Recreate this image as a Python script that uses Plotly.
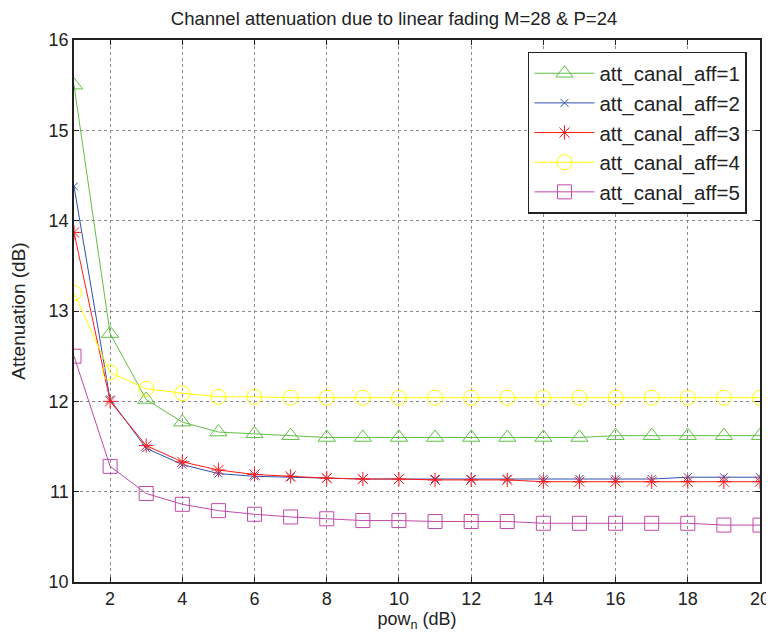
import plotly.graph_objects as go

x = list(range(1, 21))
att1 = [15.5, 12.75, 12.02, 11.77, 11.66, 11.64, 11.62, 11.6, 11.6, 11.6, 11.6, 11.6, 11.6, 11.6, 11.6, 11.62, 11.62, 11.62, 11.62, 11.62]
att2 = [14.38, 12.02, 11.48, 11.3, 11.2, 11.17, 11.16, 11.15, 11.14, 11.14, 11.14, 11.14, 11.14, 11.14, 11.14, 11.14, 11.14, 11.16, 11.16, 11.16]
att3 = [13.87, 12.0, 11.51, 11.33, 11.24, 11.19, 11.17, 11.15, 11.14, 11.14, 11.13, 11.13, 11.13, 11.11, 11.11, 11.11, 11.11, 11.11, 11.11, 11.11]
att4 = [13.2, 12.32, 12.14, 12.09, 12.05, 12.05, 12.04, 12.04, 12.04, 12.04, 12.04, 12.04, 12.04, 12.04, 12.04, 12.04, 12.04, 12.04, 12.04, 12.04]
att5 = [12.5, 11.28, 10.98, 10.86, 10.79, 10.75, 10.72, 10.7, 10.68, 10.68, 10.67, 10.67, 10.67, 10.65, 10.65, 10.65, 10.65, 10.65, 10.63, 10.63]

names = ["att_canal_aff=1", "att_canal_aff=2", "att_canal_aff=3", "att_canal_aff=4", "att_canal_aff=5"]
series = [att1, att2, att3, att4, att5]
colors = ["#5fbf45", "#2e52b0", "#ff1a1a", "#ffff00", "#c04aa8"]
symbols = ["triangle-up-open", "x-thin-open", "asterisk-open", "circle-open", "square-open"]
sizes = [15, 8, 12, 15, 14]

FONT = "Liberation Sans, Arial"
fig = go.Figure()
for name, y, c, s, sz in zip(names, series, colors, symbols, sizes):
    fig.add_trace(go.Scatter(
        x=x, y=y, name=name, mode="lines+markers",
        line=dict(color=c, width=1),
        marker=dict(symbol=s, size=sz, color=c, line=dict(color=c, width=1)),
    ))

axis_common = dict(
    showline=True, linecolor="#222", linewidth=1.5, mirror="ticks",
    ticks="inside", ticklen=5, tickcolor="#222", automargin=False,
    showgrid=True, gridcolor="#8a8a8a", griddash="dot", gridwidth=1,
    zeroline=False, tickfont=dict(family=FONT, size=18, color="#222"),
)

fig.update_layout(
    width=766, height=635,
    margin=dict(l=66, r=14, t=32, b=61),
    paper_bgcolor="white", plot_bgcolor="white",
    title=dict(text="Channel attenuation due to linear fading M=28 & P=24",
               x=0.504, xanchor="center", yref="container", y=0.984, yanchor="middle",
               font=dict(family=FONT, size=18.5, color="#222")),
    xaxis=dict(range=[1, 20], tickvals=[2, 4, 6, 8, 10, 12, 14, 16, 18, 20],
               title=dict(text="pow<sub>n</sub> (dB)", standoff=2,
                          font=dict(family=FONT, size=18, color="#222")),
               **axis_common),
    yaxis=dict(range=[10, 16], tickvals=[10, 11, 12, 13, 14, 15, 16],
               title=dict(text="Attenuation (dB)", standoff=22,
                          font=dict(family=FONT, size=19, color="#222")),
               **axis_common),
    legend=dict(x=0.981, y=0.978, xanchor="right", yanchor="top",
                bgcolor="white", bordercolor="#222", borderwidth=1.5,
                font=dict(family=FONT, size=20.5, color="#222"),
                tracegroupgap=0, itemwidth=60),
    showlegend=True,
)

fig.write_html("out.html")
